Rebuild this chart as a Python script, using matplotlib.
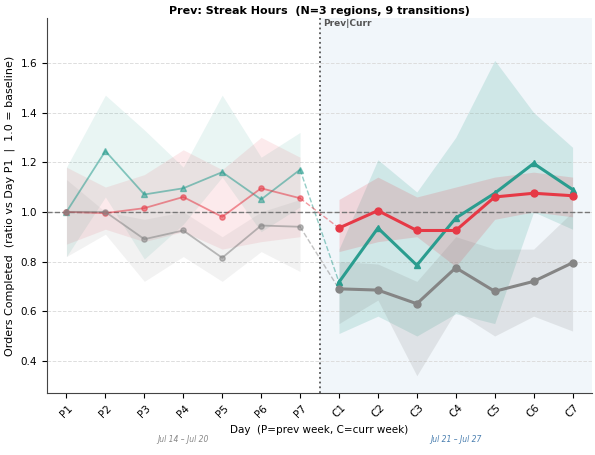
import matplotlib.pyplot as plt
import matplotlib.transforms as mtransforms
import numpy as np

prev_days = ["P1", "P2", "P3", "P4", "P5", "P6", "P7"]
curr_days = ["C1", "C2", "C3", "C4", "C5", "C6", "C7"]

# prev week (median + band per region)
teal_prev = [1.0, 1.245, 1.07, 1.095, 1.16, 1.05, 1.17]
teal_prev_lo = [0.82, 1.06, 0.81, 0.95, 1.14, 0.92, 1.02]
teal_prev_hi = [1.18, 1.47, 1.33, 1.18, 1.47, 1.22, 1.32]

red_prev = [1.0, 0.995, 1.015, 1.06, 0.98, 1.095, 1.055]
red_prev_lo = [0.87, 0.93, 0.88, 0.92, 0.85, 0.88, 0.90]
red_prev_hi = [1.18, 1.10, 1.15, 1.25, 1.17, 1.30, 1.22]

gray_prev = [1.0, 1.0, 0.89, 0.925, 0.815, 0.945, 0.94]
gray_prev_lo = [0.82, 0.91, 0.72, 0.82, 0.72, 0.84, 0.76]
gray_prev_hi = [1.13, 1.0, 0.97, 1.0, 0.90, 1.0, 1.05]

# curr week
teal_curr = [0.717, 0.935, 0.785, 0.975, 1.075, 1.195, 1.09]
teal_curr_lo = [0.51, 0.58, 0.50, 0.59, 0.55, 1.0, 0.93]
teal_curr_hi = [0.85, 1.21, 1.08, 1.30, 1.61, 1.40, 1.26]

red_curr = [0.935, 1.005, 0.925, 0.925, 1.06, 1.075, 1.065]
red_curr_lo = [0.84, 0.88, 0.90, 0.78, 0.97, 1.0, 0.98]
red_curr_hi = [1.05, 1.14, 1.06, 1.10, 1.14, 1.16, 1.14]

gray_curr = [0.69, 0.685, 0.63, 0.775, 0.68, 0.72, 0.795]
gray_curr_lo = [0.55, 0.645, 0.34, 0.60, 0.50, 0.58, 0.52]
gray_curr_hi = [0.80, 0.79, 0.72, 0.90, 0.85, 0.85, 1.0]

TEAL = "#2a9d8f"
RED = "#e63946"
GRAY = "#858585"

fig = plt.figure(figsize=(5.95, 4.55), dpi=100)
ax = fig.add_axes([0.079, 0.136, 0.916, 0.824])

xp = np.arange(7)
xc = np.arange(7, 14)

ax.axvspan(6.5, 13.5, color="#f1f6fa", zorder=0)
ax.axvline(6.5, color="#555555", ls=":", lw=1.3, zorder=1)

series = [
    (TEAL, "^", teal_prev, teal_prev_lo, teal_prev_hi, teal_curr, teal_curr_lo, teal_curr_hi),
    (RED, "o", red_prev, red_prev_lo, red_prev_hi, red_curr, red_curr_lo, red_curr_hi),
    (GRAY, "o", gray_prev, gray_prev_lo, gray_prev_hi, gray_curr, gray_curr_lo, gray_curr_hi),
]

for col, mk, p, plo, phi, c, clo, chi in series:
    ax.fill_between(xp, plo, phi, color=col, alpha=0.1, lw=0, zorder=2)
    ax.fill_between(xc, clo, chi, color=col, alpha=0.17, lw=0, zorder=2)

for col, mk, p, plo, phi, c, clo, chi in series:
    ax.plot(xp, p, color=col, marker=mk, ms=3.8, lw=1.3, alpha=0.55, zorder=4)
    ax.plot([6, 7], [p[-1], c[0]], color=col, ls="--", lw=1.0, alpha=0.5, zorder=3)
    ax.plot(xc, c, color=col, marker=mk, ms=5, lw=2.2, zorder=5)

ax.axhline(1.0, color="#777777", ls="--", lw=1.0, zorder=3)

ax.set_xlim(-0.5, 13.5)
ax.set_ylim(0.27, 1.78)
ax.set_yticks([0.4, 0.6, 0.8, 1.0, 1.2, 1.4, 1.6])
ax.yaxis.grid(True, ls="--", color="#dddddd", lw=0.7)
ax.set_axisbelow(True)
ax.set_xticks(np.arange(14))
ax.set_xticklabels(prev_days + curr_days, rotation=45, fontsize=7.5)
ax.tick_params(axis="y", labelsize=7.5)
for s in ["top", "right"]:
    ax.spines[s].set_visible(False)
ax.spines["left"].set_color("#444444")
ax.spines["bottom"].set_color("#444444")

ax.set_ylabel("Orders Completed  (ratio vs Day P1  |  1.0 = baseline)", fontsize=8)
ax.set_xlabel("Day  (P=prev week, C=curr week)", fontsize=7.5)
ax.set_title("Prev: Streak Hours  (N=3 regions, 9 transitions)", fontsize=8, fontweight="bold", pad=3)

ax.text(6.58, 1.775, "Prev|Curr", fontsize=6.5, color="#555555", fontweight="bold", va="top", ha="left")

trans = mtransforms.blended_transform_factory(ax.transData, ax.transAxes)
ax.text(3, -0.125, "Jul 14 – Jul 20", transform=trans, ha="center", va="center",
        fontsize=5.5, style="italic", color="#888888")
ax.text(10, -0.125, "Jul 21 – Jul 27", transform=trans, ha="center", va="center",
        fontsize=5.5, style="italic", color="#4a7fb0")

fig.savefig("out.png", dpi=100)
